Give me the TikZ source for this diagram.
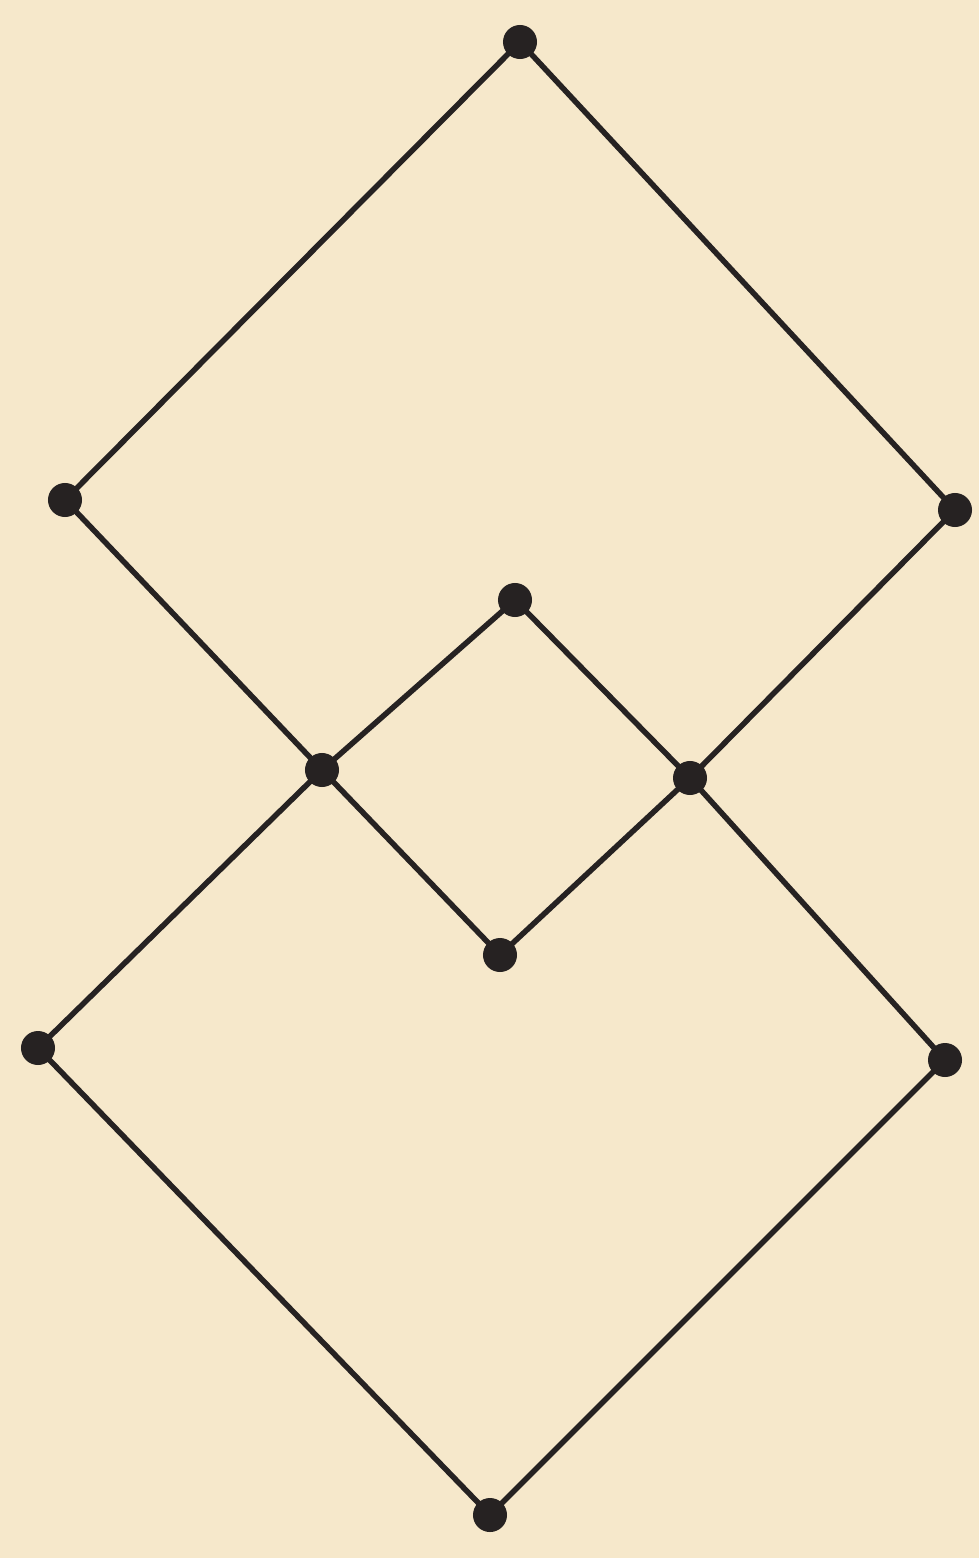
\documentclass[tikz,border=0pt]{standalone}
\definecolor{paper}{RGB}{246,232,203}
\definecolor{ink}{RGB}{38,34,34}
\tikzset{
  dot/.style={circle,fill=ink,inner sep=0pt,minimum size=0.34cm},
  edge/.style={draw=ink,line width=0.055cm,line cap=round}
}
\begin{document}
\begin{tikzpicture}[x=0.01cm,y=-0.01cm]
\fill[paper] (0,0) rectangle (979,1558);
\useasboundingbox (0,0) rectangle (979,1558);
\node[dot] (t)  at (520,42) {};
\node[dot] (lu) at (65,500) {};
\node[dot] (ru) at (955,510) {};
\node[dot] (it) at (515,600) {};
\node[dot] (ml) at (322,770) {};
\node[dot] (mr) at (690,778) {};
\node[dot] (ib) at (500,955) {};
\node[dot] (ll) at (38,1048) {};
\node[dot] (lr) at (945,1060) {};
\node[dot] (b)  at (490,1515) {};
\draw[edge] (t.center) -- (lu.center);
\draw[edge] (t.center) -- (ru.center);
\draw[edge] (lu.center) -- (ml.center);
\draw[edge] (ru.center) -- (mr.center);
\draw[edge] (ml.center) -- (it.center);
\draw[edge] (it.center) -- (mr.center);
\draw[edge] (ml.center) -- (ib.center);
\draw[edge] (ib.center) -- (mr.center);
\draw[edge] (ml.center) -- (ll.center);
\draw[edge] (mr.center) -- (lr.center);
\draw[edge] (ll.center) -- (b.center);
\draw[edge] (lr.center) -- (b.center);
\end{tikzpicture}
\end{document}
